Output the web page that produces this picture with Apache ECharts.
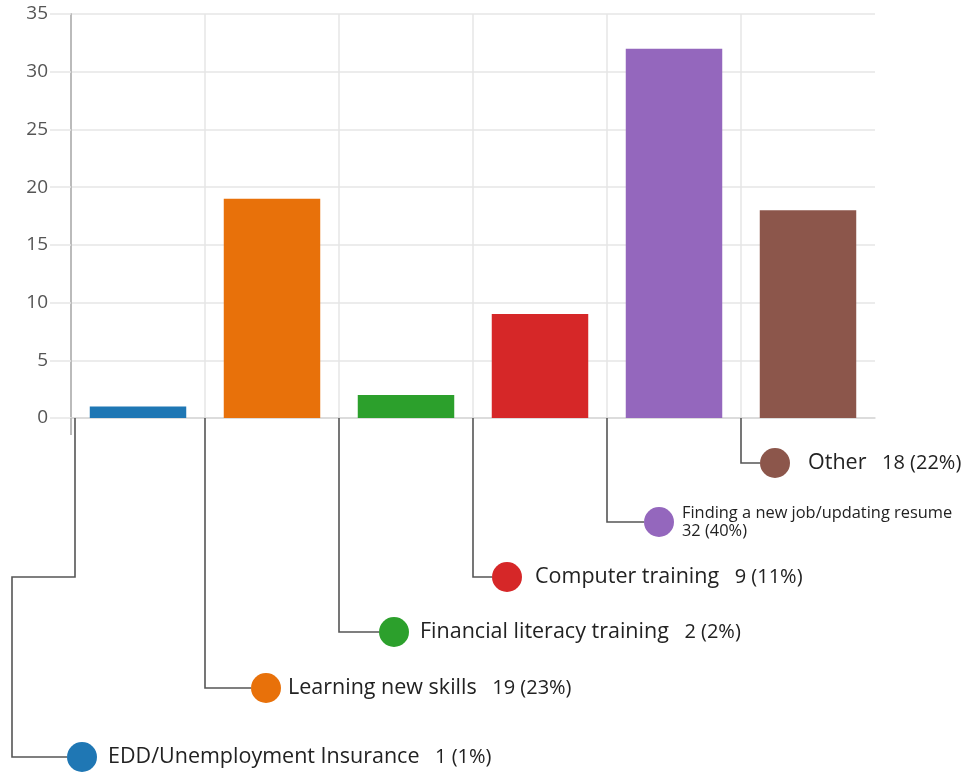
<!DOCTYPE html>
<html>
<head>
<meta charset="utf-8">
<script src="https://cdn.jsdelivr.net/npm/echarts@6/dist/echarts.min.js"></script>
<style>
  html, body { margin: 0; padding: 0; background: #fff; }
  #chart { width: 973px; height: 772px; }
</style>
</head>
<body>
<div id="chart"></div>
<script>
  // data
  var categories = ['EDD/Unemployment Insurance', 'Learning new skills', 'Financial literacy training',
                    'Computer training', 'Finding a new job/updating resume', 'Other'];
  var counts = [1, 19, 2, 9, 32, 18];
  var percents = [1, 23, 2, 11, 40, 22];
  var barColors = ['#1f77b4', '#e8710a', '#2ca02c', '#d62728', '#9467bd', '#8c564b'];

  // leader label layout (pixels, relative to category left edge / zero line)
  var dropY = [339, 270, 214, 159, 104, 45];
  var labelDx = [7, 61, 55, 34, 52, 34];
  var textGap = [26, 22, 26, 28, 23, 33];

  var FONT = 'Open Sans';
  var chart = echarts.init(document.getElementById('chart'));

  function renderLeader(params, api) {
    var i = api.value(0);
    var zero = api.coord([i, 0]);
    var band = api.size([1, 0])[0];
    var edge = zero[0] - band / 2;
    var x0 = edge + (i === 0 ? 4 : 0);
    var y0 = zero[1];
    var cy = y0 + dropY[i];
    var cx = x0 + labelDx[i];
    var r = 15;
    var pts;
    var kids = [];
    if (i === 0) {
      // y axis runs a little below zero
      kids.push({ type: 'line', shape: { x1: edge, y1: y0, x2: edge, y2: y0 + 17 }, style: { stroke: '#bbb', lineWidth: 2 } });
      // first leader detours left round the others
      pts = [[x0, y0], [x0, y0 + 159], [x0 - 63, y0 + 159], [x0 - 63, cy], [cx - r, cy]];
    } else {
      pts = [[x0, y0], [x0, cy], [cx - r, cy]];
    }
    var txt;
    if (i === 4) {
      txt = '{s|' + categories[i] + '}\n{s|' + counts[i] + ' (' + percents[i] + '%)}';
    } else {
      txt = '{n|' + categories[i] + '}{v|   ' + counts[i] + ' (' + percents[i] + '%)}';
    }
    kids.push(
      { type: 'polyline', shape: { points: pts }, style: { stroke: '#555', lineWidth: 1.6, fill: null } },
      { type: 'circle', shape: { cx: cx, cy: cy, r: r }, style: { fill: barColors[i] } },
      {
        type: 'text',
        style: {
          x: cx + textGap[i], y: cy,
          text: txt,
          verticalAlign: 'middle',
          align: 'left',
          fill: '#222',
          fontFamily: FONT,
          rich: {
            n: { fontSize: 21.5, fontFamily: FONT, fill: '#222' },
            v: { fontSize: 20, fontFamily: FONT, fill: '#222' },
            s: { fontSize: 16.4, fontFamily: FONT, fill: '#222', lineHeight: 18 }
          }
        }
      }
    );
    return { type: 'group', children: kids };
  }

  chart.setOption({
    animation: false,
    grid: { left: 71, right: 98, top: 14, bottom: 354, containLabel: false, outerBoundsMode: 'none' },
    xAxis: {
      type: 'category',
      data: categories,
      boundaryGap: true,
      axisLine: { lineStyle: { color: '#d6d6d6', width: 1.5 } },
      axisTick: { show: false },
      axisLabel: { show: false },
      splitLine: {
        show: true,
        interval: 0,
        lineStyle: {
          color: ['#e6e6e6', '#e6e6e6', '#e6e6e6', '#e6e6e6', '#e6e6e6', '#e6e6e6', 'rgba(0,0,0,0)'],
          width: 1.5
        }
      }
    },
    yAxis: {
      type: 'value',
      min: 0,
      max: 35,
      interval: 5,
      axisLine: { show: true, lineStyle: { color: '#bbb', width: 2 } },
      axisTick: { show: true, length: 21, lineStyle: { color: '#e6e6e6', width: 1.5 } },
      axisLabel: { margin: 23, color: '#555', fontSize: 19, fontFamily: FONT },
      splitLine: { show: true, lineStyle: { color: '#e6e6e6', width: 1.5 } }
    },
    series: [
      {
        type: 'bar',
        barWidth: '72%',
        data: counts.map(function (v, i) {
          return { value: v, itemStyle: { color: barColors[i] } };
        })
      },
      {
        type: 'custom',
        clip: false,
        z: 5,
        renderItem: renderLeader,
        data: counts.map(function (v, i) { return [i, v]; })
      }
    ]
  });
</script>
</body>
</html>
